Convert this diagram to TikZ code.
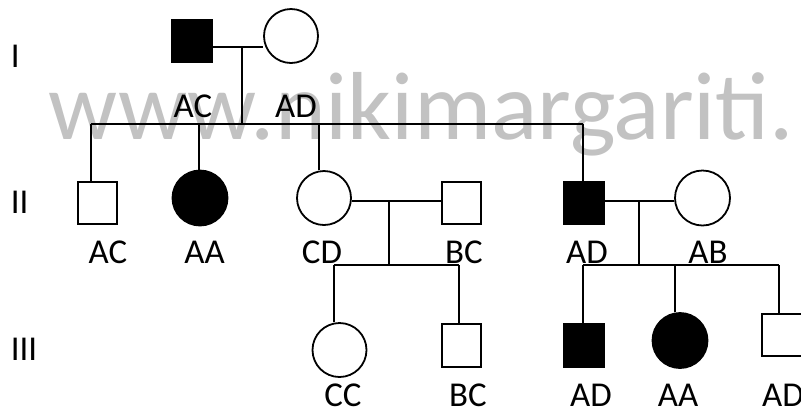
\documentclass[tikz,border=0pt]{standalone}
\usepackage{fontspec}
\setmainfont{Carlito}
\definecolor{wmgray}{RGB}{194,194,194}
\begin{document}
\begin{tikzpicture}[x=1bp,y=-1bp,
  line width=1.8bp,
  male/.style={draw, rectangle, inner sep=0pt, minimum width=40bp, minimum height=42bp},
  female/.style={draw, circle, inner sep=0pt, minimum size=54bp},
  affected/.style={fill=black},
  lbl/.style={anchor=base, inner sep=0pt, font=\fontsize{35}{36}\selectfont},
  gen/.style={anchor=base west, inner sep=0pt, font=\fontsize{35}{36}\selectfont},
  wmtext/.style={anchor=base west, inner sep=0pt, text=wmgray, font=\fontsize{97}{100}\selectfont}]
\useasboundingbox (0,0) rectangle (801,412);
\clip (0,0) rectangle (801,412);
\fill[white] (0,0) rectangle (801,412);

% watermark behind the pedigree
\node[wmtext] (wm) at (48,139) {www.nikimargariti.};

% generation numerals
\node[gen] (gI) at (10,67) {I};
\node[gen] (gII) at (10,213) {II};
\node[gen] (gIII) at (10,360) {III};

% generation I
\node[male, affected, minimum height=43bp] (I1) at (192,41) {};
\node[female] (I2) at (291,36) {};
\coordinate (mI) at (242,47);
\coordinate (sI) at (242,124);
\draw (mI -| I1.east) -- (mI -| I2.west);
\draw (mI) -- (sI);

% generation II
\node[male, minimum width=39bp] (II1) at (97.5,203) {};
\node[female, affected, minimum size=55bp] (II2) at (200,198) {};
\node[female] (II3) at (324,198) {};
\node[male, minimum width=39bp] (II4) at (461.5,203) {};
\node[male, affected] (II5) at (584,203) {};
\node[female, minimum size=55bp] (II6) at (702.5,198) {};

% sibship of generation II
\coordinate (dII1) at (91,124);
\coordinate (dII2) at (199,124);
\coordinate (dII3) at (319,124);
\coordinate (dII5) at (583,124);
\draw (dII1) -- (dII5);
\draw (dII1) -- (dII1 |- II1.north);
\draw (dII2) -- (dII2 |- II2.north);
\draw (dII3) -- (dII3 |- II3.north);
\draw (dII5) -- (dII5 |- II5.north);

% couples of generation II
\coordinate (mII1) at (389,201);
\coordinate (sII1) at (389,265);
\draw (mII1 -| II3.east) -- (mII1 -| II4.west);
\draw (mII1) -- (sII1);
\coordinate (mII2) at (639,201);
\coordinate (sII2) at (639,265);
\draw (mII2 -| II5.east) -- (mII2 -| II6.west);
\draw (mII2) -- (sII2);

% generation III
\node[female] (III1) at (339.5,350) {};
\node[male, minimum width=39bp, minimum height=43bp] (III2) at (461.5,345.5) {};
\node[male, affected, minimum height=43bp] (III3) at (584,345.5) {};
\node[female, affected, minimum size=55bp] (III4) at (680,340.5) {};
\node[male] (III5) at (782,335) {};

% sibships of generation III
\coordinate (dIII1) at (334,265);
\coordinate (dIII2) at (459,265);
\draw (dIII1) -- (dIII2);
\draw (dIII1) -- (dIII1 |- III1.north);
\draw (dIII2) -- (dIII2 |- III2.north);
\coordinate (dIII3) at (583,265);
\coordinate (dIII4) at (675,265);
\coordinate (dIII5) at (779,265);
\draw (dIII3) -- (dIII5);
\draw (dIII3) -- (dIII3 |- III3.north);
\draw (dIII4) -- (dIII4 |- III4.north);
\draw (dIII5) -- (dIII5 |- III5.north);

% genotypes
\node[lbl] (tI1) at (193,117) {AC};
\node[lbl] (tI2) at (296,117) {AD};
\node[lbl] (tII1) at (108,263) {AC};
\node[lbl] (tII2) at (204.5,263) {AA};
\node[lbl] (tII3) at (322,263) {CD};
\node[lbl] (tII4) at (464,263) {BC};
\node[lbl] (tII5) at (587,263) {AD};
\node[lbl] (tII6) at (708,263) {AB};
\node[lbl] (tIII1) at (343,406) {CC};
\node[lbl] (tIII2) at (468,406) {BC};
\node[lbl] (tIII3) at (591,406) {AD};
\node[lbl] (tIII4) at (678,406) {AA};
\node[lbl] (tIII5) at (783,406) {AD};
\end{tikzpicture}
\end{document}
